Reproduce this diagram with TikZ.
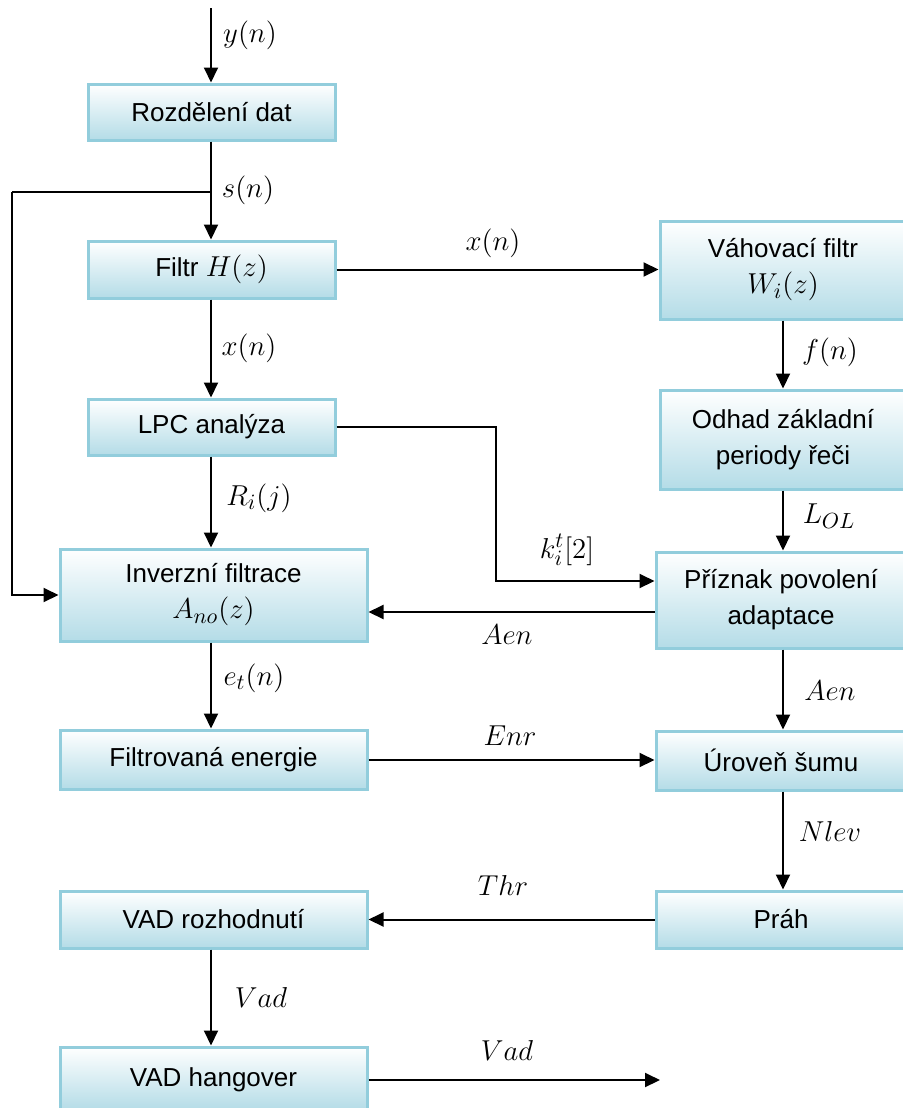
\documentclass[tikz,border=0pt]{standalone}
\usepackage{fontspec}
\setmainfont{Liberation Sans}
\usetikzlibrary{arrows.meta,calc}
\definecolor{boxborder}{RGB}{146,205,220}
\definecolor{boxbottom}{RGB}{180,220,231}
\newcommand\mymath[1]{{\fontsize{15}{18}\selectfont$#1$}}
\tikzset{
  blk/.style={draw=boxborder, line width=1.5pt, top color=white, bottom color=boxbottom,
    inner sep=0pt, align=center, font=\fontsize{13}{18}\selectfont},
  conn/.style={line width=1pt, draw=black, -{Triangle[length=7.5pt,width=7pt]}},
  plain/.style={line width=1pt, draw=black},
  lbl/.style={font=\fontsize{15}{18}\selectfont, inner sep=0pt}
}
\begin{document}
\begin{tikzpicture}[x=0.5pt,y=-0.5pt]
\useasboundingbox (0,0) rectangle (903,1108);
\clip (0,0) rectangle (903,1108);
% left column
\node[blk, minimum width=123.5pt, minimum height=28pt] (A) at (211.5,112) {Rozdělení dat};
\node[blk, minimum width=123.5pt, minimum height=28.5pt] (B) at (211.5,269.5) {Filtr \mymath{H(z)}};
\node[blk, minimum width=123.5pt, minimum height=28pt] (C) at (211.5,427) {LPC analýza};
\node[blk, minimum width=153.5pt, minimum height=46pt] (D) at (213.5,595) {Inverzní filtrace\\\mymath{A_{no}(z)}};
\node[blk, minimum width=153.5pt, minimum height=29.5pt] (E) at (213.5,759.5) {Filtrovaná energie};
\node[blk, minimum width=153.5pt, minimum height=28.5pt] (F) at (213.5,919.5) {VAD rozhodnutí};
\node[blk, minimum width=153.5pt, minimum height=31.5pt] (G) at (213.5,1078.5) {};
\node[font=\fontsize{13}{16}\selectfont] (Gt) at (213.5,1080) {VAD hangover};
% right column
\node[blk, minimum width=123pt, minimum height=49pt] (H) at (783,270) {Váhovací filtr\\\mymath{W_i(z)}};
\node[blk, minimum width=123pt, minimum height=49.5pt] (I) at (783,439.5) {Odhad základní\\periody řeči};
\node[blk, minimum width=125pt, minimum height=48pt] (J) at (781,600) {Příznak povolení\\adaptace};
\node[blk, minimum width=125pt, minimum height=29.5pt] (K) at (781,760.5) {Úroveň šumu};
\node[blk, minimum width=125pt, minimum height=28.5pt] (L) at (781,919.5) {Práh};
% input
\coordinate (in) at (211,8);
\draw[conn] (in) -- (in |- A.north);
\node[lbl] (ly) at (250,35) {$y(n)$};
% A -> B with branch
\draw[conn] (A.south -| in) -- (in |- B.north);
\coordinate (sb) at (211,192);
\coordinate (sl) at (12,192);
\draw[plain] (sb) -- (sl);
\draw[conn] (sl) |- (D.west);
\node[lbl] (ls) at (248,190) {$s(n)$};
% B -> C
\draw[conn] (B.south -| in) -- (in |- C.north);
\node[lbl] (lx1) at (249,348) {$x(n)$};
% C -> D
\draw[conn] (C.south -| in) -- (in |- D.north);
\node[lbl] (lr) at (259,498) {$R_i(j)$};
% D -> E
\draw[conn] (D.south -| in) -- (in |- E.north);
\node[lbl] (le) at (254,678) {$e_t(n)$};
% F -> G
\draw[conn] (F.south -| in) -- (in |- G.north);
\node[lbl] (lv1) at (261,997) {$Vad$};
% B -> H
\draw[conn] (B.east) -- (H.west |- B.east);
\node[lbl] (lx2) at (493,243) {$x(n)$};
% C -> J
\coordinate (cj1) at (496,427);
\coordinate (cj2) at (496,581);
\draw[conn] (C.east |- cj1) -- (cj1) -- (cj2) -- (J.west |- cj2);
\node[lbl] (lk) at (567,550) {$k^{t}_{i}[2]$};
% J -> D
\coordinate (aj) at (656,612);
\draw[conn] (J.west |- aj) -- (D.east |- aj);
\node[lbl] (la1) at (507,635) {$Aen$};
% E -> K
\coordinate (ek) at (400,760);
\draw[conn] (E.east |- ek) -- (K.west |- ek);
\node[lbl] (len) at (510,736) {$Enr$};
% L -> F
\draw[conn] (L.west) -- (F.east |- L.west);
\node[lbl] (lt) at (503,885) {$Thr$};
% G -> out
\coordinate (out) at (660,1080);
\draw[conn] (G.east |- out) -- (out);
\node[lbl] (lv2) at (507,1050) {$Vad$};
% right column vertical
\coordinate (rc) at (783,0);
\draw[conn] (H.south -| rc) -- (rc |- I.north);
\node[lbl] (lf) at (830,352) {$f(n)$};
\draw[conn] (I.south -| rc) -- (rc |- J.north);
\node[lbl] (ll) at (829,516) {$L_{OL}$};
\draw[conn] (J.south -| rc) -- (rc |- K.north);
\node[lbl] (la2) at (830,691) {$Aen$};
\draw[conn] (K.south -| rc) -- (rc |- L.north);
\node[lbl] (ln) at (830,831) {$Nlev$};
\end{tikzpicture}
\end{document}
